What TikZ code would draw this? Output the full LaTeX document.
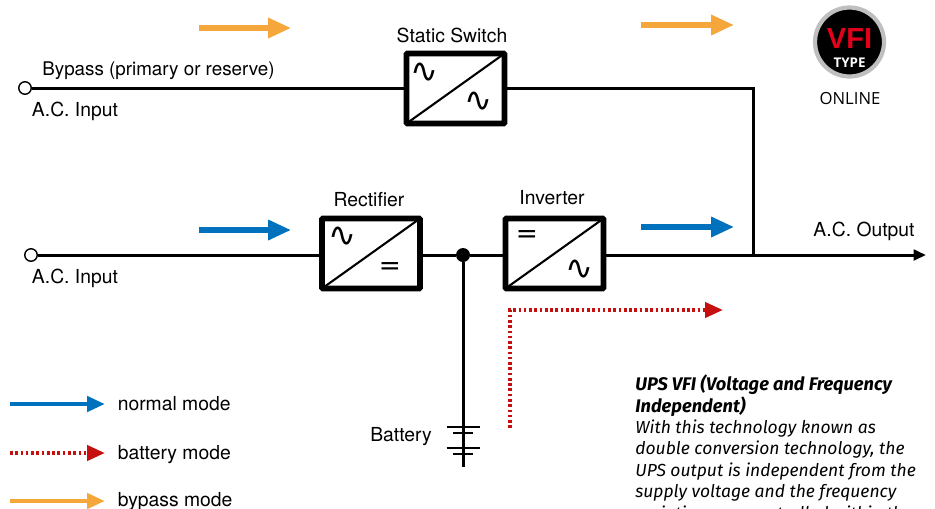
\documentclass[tikz,border=0pt]{standalone}
\usepackage{fontspec}
\setmainfont{TeX Gyre Heros}
\newfontfamily\notefont{Fira Sans}
\newfontfamily\badgefont{Open Sans}
\newfontfamily\symfont{DejaVu Sans}
\newfontfamily\vfifont{Liberation Sans}
\usetikzlibrary{arrows.meta}
\definecolor{normalblue}{HTML}{0071BC}
\definecolor{batteryred}{HTML}{C5100F}
\definecolor{bypassorange}{HTML}{F6A73B}
\definecolor{badgered}{HTML}{E3001B}
\begin{document}
\begin{tikzpicture}[x=0.02cm,y=-0.02cm,font=\fontsize{11pt}{12pt}\selectfont,
  convbox/.style={draw, line width=3.2pt, rounded corners=0.5pt, outer sep=0pt,
                  minimum width=1.96cm, minimum height=1.4cm},
  sym/.style={inner sep=0pt, font=\symfont\fontsize{#1}{#1}\selectfont},
  terminal/.style={draw, circle, thick, fill=white, inner sep=0pt, minimum size=12.5*0.02cm},
  wire/.style={line width=1.7pt},
  plate/.style={line width=#1},
  modearrow/.style={-{Triangle[length=13pt,width=11pt]}, line width=3pt, draw=#1},
  keyarrow/.style={-{Triangle[length=10.2pt,width=8.5pt]}, line width=2.7pt, draw=#1},
  batteryarrow/.style={-{Triangle[length=10.2pt,width=8.5pt]}, line width=2.3pt,
                       draw=batteryred, dash pattern=on 1.5pt off 1.5pt}
]
  \useasboundingbox (0,0) rectangle (935,508);

  \node[convbox] (sw)  at (455.5,88.5)  {};
  \node[convbox] (rec) at (371,253.5) {};
  \node[convbox] (inv) at (554.5,253.5) {};
  \node[terminal] (in1) at (25,88)  {};
  \node[terminal] (in2) at (31,255) {};
  \node[circle, fill=black, inner sep=0pt, minimum size=14*0.02cm] (dot) at (463,255) {};
  \coordinate (corner) at (753,88);
  \coordinate (tee)    at (753,255);
  \coordinate (out)    at (926,255);
  \coordinate (batt)   at (463,467);

  \draw[wire] (in1) -- (in1-|sw.west);
  \draw[wire] (sw.east|-corner) -- (corner) -- (tee);
  \draw[wire] (in2) -- (in2-|rec.west);
  \draw[wire] (rec.east|-dot) -- (dot) -- (dot-|inv.west);
  \draw[wire, -{Triangle[length=7pt,width=6pt]}] (inv.east|-out) -- (out);
  \draw[wire] (dot) -- (batt);

  \foreach \conv in {sw,rec,inv}
    \draw[line width=1.2pt] (\conv.south west) -- (\conv.north east);

  \node[sym=19pt] (swa) at (424,73)  {∿};
  \node[sym=19pt] (swb) at (478,102) {∿};
  \node[sym=19pt] (reca) at (342,237) {∿};
  \node[sym=15pt] (recb) at (390,269) {=};
  \node[sym=15pt] (inva) at (527,237) {=};
  \node[sym=19pt] (invb) at (579,270) {∿};

  \coordinate (p1) at (463,427);
  \coordinate (p2) at (463,433);
  \coordinate (p3) at (463,448);
  \coordinate (p4) at (463,454);
  \draw[plate=0.8pt] ([xshift=-0.33cm]p1) -- ([xshift=0.33cm]p1);
  \draw[plate=0.8pt] ([xshift=-0.2cm]p2)  -- ([xshift=0.2cm]p2);
  \draw[plate=1.4pt] ([xshift=-0.33cm]p3) -- ([xshift=0.33cm]p3);
  \draw[plate=0.8pt] ([xshift=-0.2cm]p4)  -- ([xshift=0.2cm]p4);

  \node (swlabel)  at (452,35)  {Static Switch};
  \node (reclabel) at (369,199.5) {Rectifier};
  \node (invlabel) at (552,197.5) {Inverter};
  \node[font=\fontsize{10.7pt}{12pt}\selectfont] (bypass) at (158.5,70.5) {Bypass (primary or reserve)};
  \node (aci1)     at (75,111.5)  {A.C. Input};
  \node (aci2)     at (75,278.5)  {A.C. Input};
  \node (aco)      at (864,231) {A.C. Output};
  \node (battery)  at (401,436.5) {Battery};

  \coordinate (o1a) at (199,28);  \coordinate (o1b) at (291,28);
  \coordinate (o2a) at (641,25);  \coordinate (o2b) at (734,25);
  \coordinate (b1a) at (199,230); \coordinate (b1b) at (291,230);
  \coordinate (b2a) at (641,227); \coordinate (b2b) at (734,227);
  \coordinate (r1a) at (510,428); \coordinate (r1c) at (510,310); \coordinate (r1b) at (723,310);
  \draw[modearrow=bypassorange] (o1a) -- (o1b);
  \draw[modearrow=bypassorange] (o2a) -- (o2b);
  \draw[modearrow=normalblue] (b1a) -- (b1b);
  \draw[modearrow=normalblue] (b2a) -- (b2b);
  \draw[batteryarrow] (r1a) -- (r1c) -- (r1b);

  \node[anchor=west] (lnormal)  at (111.6,404) {normal mode};
  \node[anchor=west] (lbattery) at (111.6,454.5) {battery mode};
  \node[anchor=west] (lbypass)  at (111.6,501.5) {bypass mode};
  \coordinate (k1) at (10,404);  \coordinate (k1b) at (105,404);
  \coordinate (k2) at (10,453);  \coordinate (k2b) at (105,453);
  \coordinate (k3) at (10,501);  \coordinate (k3b) at (105,501);
  \draw[keyarrow=normalblue] (k1) -- (k1b);
  \draw[batteryarrow] (k2) -- (k2b);
  \draw[keyarrow=bypassorange] (k3) -- (k3b);

  \node[circle, fill=black, draw=black!25, line width=2.4pt, inner sep=0pt,
        minimum size=69*0.02cm] (badge) at (849.5,42) {};
  \node[text=badgered, inner sep=0pt, font=\vfifont\bfseries\fontsize{16.5pt}{18pt}\selectfont] (vfi) at (849.5,39) {VFI};
  \node[text=white, inner sep=0pt, font=\badgefont\bfseries\fontsize{7.6pt}{8pt}\selectfont] (type) at (849.5,62.5) {TYPE};
  \node[inner sep=0pt, font=\badgefont\fontsize{9.5pt}{10pt}\selectfont] (online) at (850,98.5) {ONLINE};

  \node[anchor=north west, inner sep=0pt, align=left,
        font=\notefont\itshape\fontsize{9.95pt}{12.2pt}\selectfont] (note) at (635,374.5)
    {{\bfseries\fontsize{10.4pt}{12.2pt}\selectfont UPS VFI (Voltage and Frequency}\\
     {\bfseries\fontsize{10.4pt}{12.2pt}\selectfont Independent)}\\
     With this technology known as\\
     double conversion technology, the\\
     UPS output is independent from the\\
     supply voltage and the frequency\\
     variations are controlled within the};
\end{tikzpicture}
\end{document}
